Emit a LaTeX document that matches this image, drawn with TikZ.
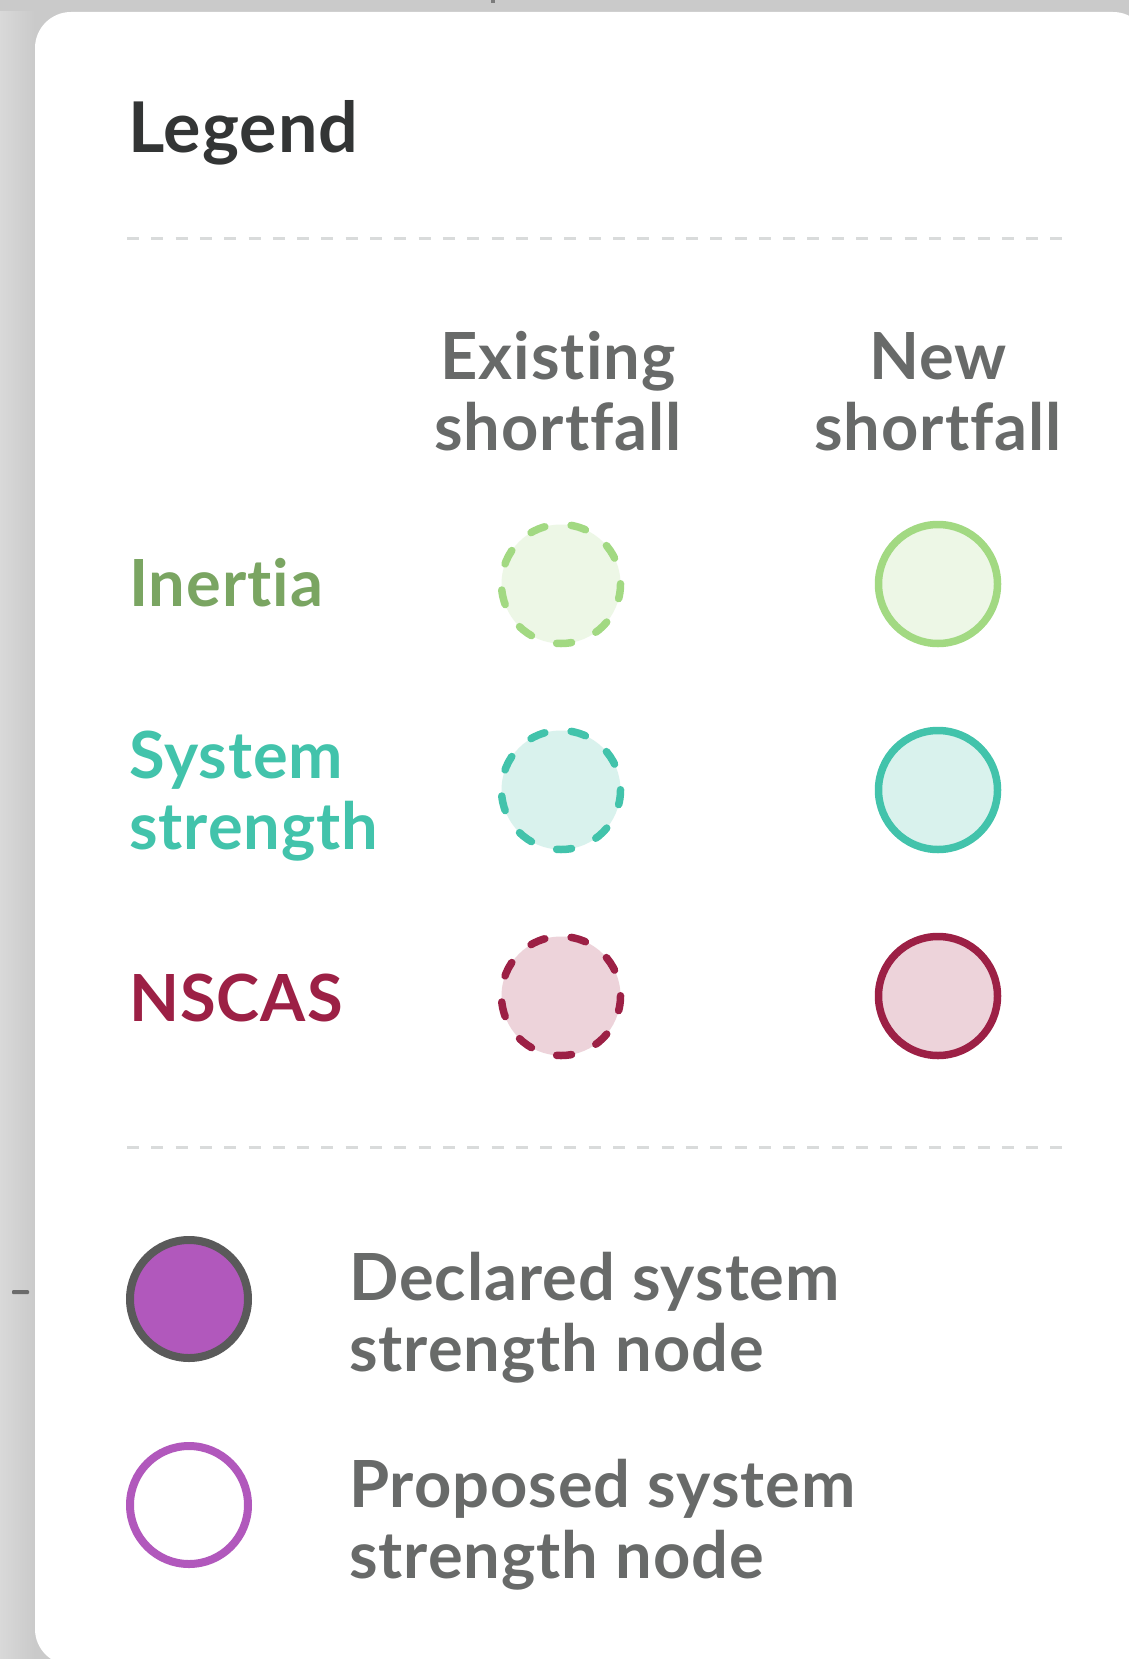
\documentclass[tikz,border=0pt]{standalone}
\usepackage{fontspec}
\setmainfont{Lato}[Ligatures=NoCommon, LetterSpace=1.5]
\usepackage{xcolor}
\usetikzlibrary{positioning}

\definecolor{backgrey}{HTML}{CACACA}
\definecolor{rulegrey}{HTML}{D9DBDB}
\definecolor{titlegrey}{HTML}{333535}
\definecolor{textgrey}{HTML}{686A69}
\definecolor{inertiatext}{HTML}{7AA562}
\definecolor{inertialine}{HTML}{A2D982}
\definecolor{inertiafill}{HTML}{EDF7E6}
\definecolor{strengthline}{HTML}{42C3AB}
\definecolor{strengthfill}{HTML}{D9F2ED}
\definecolor{nscasline}{HTML}{9C2045}
\definecolor{nscasfill}{HTML}{EDD3DA}
\definecolor{nodepurple}{HTML}{B158BC}
\definecolor{nodeedge}{HTML}{5A5A5A}

\tikzset{
  bigtext/.style={inner sep=0pt, font=\fontsize{65}{71}\selectfont\bfseries},
  rowlabel/.style={bigtext, anchor=base west, align=left},
  colhead/.style={bigtext, anchor=base, align=center, text=textgrey},
  existcirc/.style={circle, minimum size=119pt, inner sep=0pt, line width=7.5pt,
    line cap=round, dash pattern=on 15pt off 26.53pt, dash phase=14.75pt},
  newcirc/.style={circle, minimum size=119pt, inner sep=0pt, line width=7.5pt},
  sysnode/.style={circle, minimum size=118pt, inner sep=0pt, line width=8pt},
  separator/.style={rulegrey, line width=3pt, dash pattern=on 12pt off 12.3pt}
}

\begin{document}
\begin{tikzpicture}[x=1pt,y=-1pt]
  \useasboundingbox (0,0) rectangle (1129,1659);
  \clip (0,0) rectangle (1129,1659);

  % background and card:
  \fill[backgrey] (0,0) rectangle (1129,1659);
  \shade[left color=black!15, right color=backgrey] (0,12) rectangle (35,1659);
  \fill[white, rounded corners=36pt] (35,12) rectangle (1149,1665);
  \fill[nodeedge!80] (491,0) rectangle (495,3);
  \fill[nodeedge!90, rounded corners=1pt] (12,1290) rectangle (29,1294);

  % title and rules:
  \node[bigtext, anchor=base west, text=titlegrey,
    font=\fontsize{70}{70}\selectfont\bfseries] (title) at (128,152) {Legend};
  \coordinate (ruleAw) at (127,238);
  \coordinate (ruleAe) at (1062,238);
  \coordinate (ruleBw) at (127,1147);
  \coordinate (ruleBe) at (1062,1147);
  \draw[separator] (ruleAw) -- (ruleAe);
  \draw[separator] (ruleBw) -- (ruleBe);

  % column headings (base = last line):
  \node[colhead] (existing) at (558,450) {Existing\\shortfall};
  \node[colhead] (newshort) at (938,450) {New\\shortfall};

  % rows:
  \node[rowlabel, text=inertiatext] (inertia) at (129,606) {Inertia};
  \node[rowlabel, text=strengthline] (strength) at (129,849) {System\\strength};
  \node[rowlabel, text=nscasline] (nscas) at (129,1021) {NSCAS};

  \node[existcirc, draw=inertialine, fill=inertiafill] (inertiaA) at (561,584) {};
  \node[newcirc, draw=inertialine, fill=inertiafill] (inertiaB) at (938,584) {};
  \node[existcirc, draw=strengthline, fill=strengthfill] (strengthA) at (561,790) {};
  \node[newcirc, draw=strengthline, fill=strengthfill] (strengthB) at (938,790) {};
  \node[existcirc, draw=nscasline, fill=nscasfill] (nscasA) at (561,996) {};
  \node[newcirc, draw=nscasline, fill=nscasfill] (nscasB) at (938,996) {};

  % node types:
  \node[sysnode, draw=nodeedge, fill=nodepurple] (declared) at (189,1299) {};
  \node[sysnode, draw=nodepurple, fill=white] (proposed) at (189,1505) {};
  \node[rowlabel, text=textgrey] (declaredtxt) at (349,1371)
    {Declared system\\strength node};
  \node[rowlabel, text=textgrey] (proposedtxt) at (349,1578)
    {Proposed system\\strength node};
\end{tikzpicture}
\end{document}
